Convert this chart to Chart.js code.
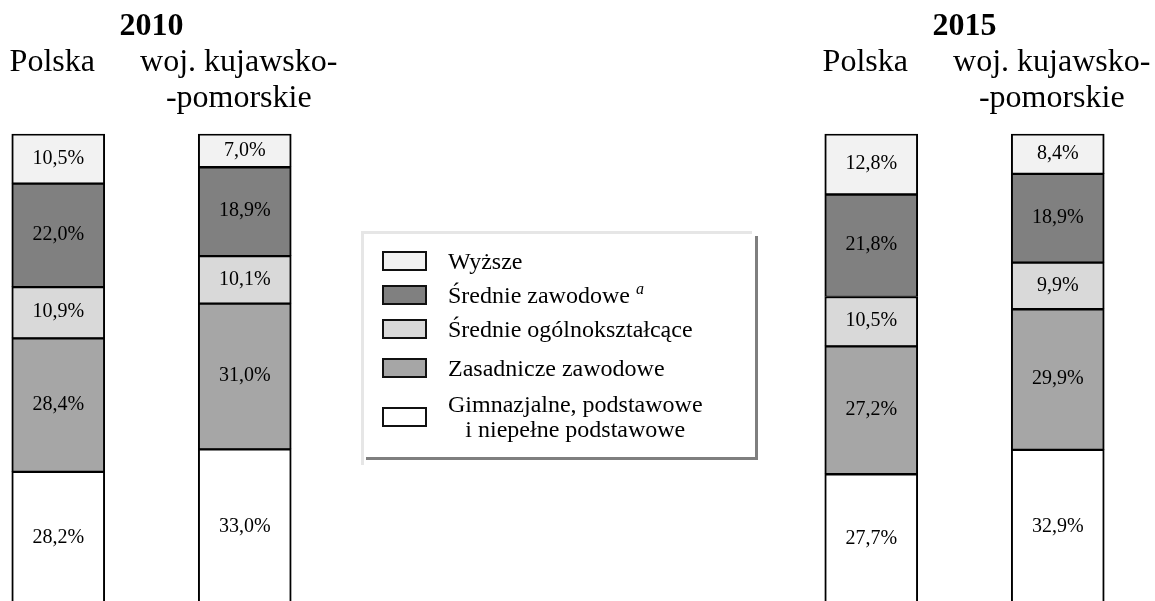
<!DOCTYPE html>
<html>
<head>
<meta charset="utf-8">
<script src="https://cdn.jsdelivr.net/npm/chart.js@4.4.0/dist/chart.umd.min.js"></script>
<style>
  html, body { margin: 0; padding: 0; width: 1155px; height: 601px; overflow: hidden; background: #fff; }
  canvas { position: absolute; top: 0; }
  #c2010 { left: -36px; }
  #c2015 { left: 777px; }
  #legend {
    position: absolute; left: 361px; top: 231px; width: 388px; height: 221px;
    border-top: 3px solid #e6e6e6; border-left: 3px solid #e6e6e6;
    padding-top: 10px; box-sizing: content-box;
    font-family: "Liberation Serif", "Times New Roman", serif; font-size: 24px; color: #000;
  }
  #shadowR { position: absolute; left: 755px; top: 236px; width: 3px; height: 224px; background: #7f7f7f; }
  #shadowB { position: absolute; left: 366px; top: 457px; width: 392px; height: 3px; background: #7f7f7f; }
  .row { display: flex; align-items: center; }
  .row:nth-child(1), .row:nth-child(2), .row:nth-child(3) { height: 34px; }
  .row:nth-child(4) { height: 44px; }
  .row:nth-child(5) { height: 53px; }
  .swatch { width: 45px; height: 20px; box-sizing: border-box; border: 2px solid #111; margin-left: 18px; margin-right: 21px; flex: none; }
  .txt { white-space: pre-line; text-align: center; line-height: 25px; }
  .txt sup { font-style: italic; font-size: 16px; margin-left: 6px; line-height: 0; }
</style>
</head>
<body>
<canvas id="c2010" width="404" height="604"></canvas>
<canvas id="c2015" width="404" height="604"></canvas>
<div id="shadowR"></div>
<div id="shadowB"></div>
<div id="legend"></div>
<script>
// order of bars in each panel
const categories = ['Polska', ['woj. kujawsko-', '-pomorskie']];
const years = ['2010', '2015'];

// values: Polska 2010, kuj-pom 2010, Polska 2015, kuj-pom 2015
const gimnazjalne = [28.2, 33.0, 27.7, 32.9];
const zasadnicze = [28.4, 31.0, 27.2, 29.9];
const srednieOgolne = [10.9, 10.1, 10.5, 9.9];
const srednieZawodowe = [22.0, 18.9, 21.8, 18.9];
const wyzsze = [10.5, 7.0, 12.8, 8.4];

// stacked from the bottom up
const seriesNames = ['Gimnazjalne, podstawowe\ni niepełne podstawowe', 'Zasadnicze zawodowe', 'Średnie ogólnokształcące', 'Średnie zawodowe', 'Wyższe'];
const seriesNotes = ['', '', '', 'a', ''];
const seriesValues = [gimnazjalne, zasadnicze, srednieOgolne, srednieZawodowe, wyzsze];
const seriesColors = ['#ffffff', '#a6a6a6', '#d9d9d9', '#808080', '#f2f2f2'];

const serif = '"Liberation Serif", "Times New Roman", serif';

const valueLabels = {
  id: 'valueLabels',
  afterDatasetsDraw(chart) {
    const ctx = chart.ctx;
    ctx.save();
    ctx.font = '20px ' + serif;
    ctx.fillStyle = '#000';
    ctx.textAlign = 'center';
    ctx.textBaseline = 'middle';
    chart.data.datasets.forEach((ds, i) => {
      chart.getDatasetMeta(i).data.forEach((bar, j) => {
        const p = bar.getProps(['x', 'y', 'base'], true);
        const txt = ds.data[j].toFixed(1).replace('.', ',') + '%';
        ctx.fillText(txt, p.x, (p.y + p.base) / 2);
      });
    });
    ctx.restore();
  }
};

function makeChart(id, year, from) {
  const datasets = seriesNames.map((name, i) => ({
    label: name,
    data: seriesValues[i].slice(from, from + 2),
    backgroundColor: seriesColors[i],
    borderColor: '#000',
    borderWidth: { top: 2, bottom: 1, left: 2, right: 2 },
    borderSkipped: false,
    barThickness: 93
  }));

  return new Chart(document.getElementById(id), {
    type: 'bar',
    data: { labels: categories, datasets: datasets },
    options: {
      responsive: false,
      animation: false,
      layout: { padding: { left: 1, right: 30, top: 0, bottom: 0 } },
      plugins: {
        legend: { display: false },
        tooltip: { enabled: false },
        title: {
          display: true,
          text: year,
          fullSize: false,
          color: '#000',
          font: { family: serif, size: 32, weight: 'bold' },
          padding: { top: 8, bottom: -1 }
        }
      },
      scales: {
        x: {
          position: 'top',
          stacked: true,
          // tick marks hidden, their length only makes the gap above the bars
          grid: { display: false, drawTicks: true, tickLength: 18 },
          border: { display: false },
          ticks: {
            color: '#000',
            font: { family: serif, size: 32, lineHeight: 1.1 },
            padding: 0,
            crossAlign: 'far',
            labelOffset: -6,
            maxRotation: 0,
            autoSkip: false
          }
        },
        y: { stacked: true, display: false, min: 0, max: 100 }
      }
    },
    plugins: [valueLabels]
  });
}

makeChart('c2010', years[0], 0);
makeChart('c2015', years[1], 2);

// legend, top of the stack first
const legend = document.getElementById('legend');
for (let i = seriesNames.length - 1; i >= 0; i--) {
  const row = document.createElement('div');
  row.className = 'row';
  const sw = document.createElement('div');
  sw.className = 'swatch';
  sw.style.background = seriesColors[i];
  const txt = document.createElement('span');
  txt.className = 'txt';
  txt.textContent = seriesNames[i];
  if (seriesNotes[i]) {
    const sup = document.createElement('sup');
    sup.textContent = seriesNotes[i];
    txt.appendChild(sup);
  }
  row.appendChild(sw);
  row.appendChild(txt);
  legend.appendChild(row);
}
</script>
</body>
</html>
